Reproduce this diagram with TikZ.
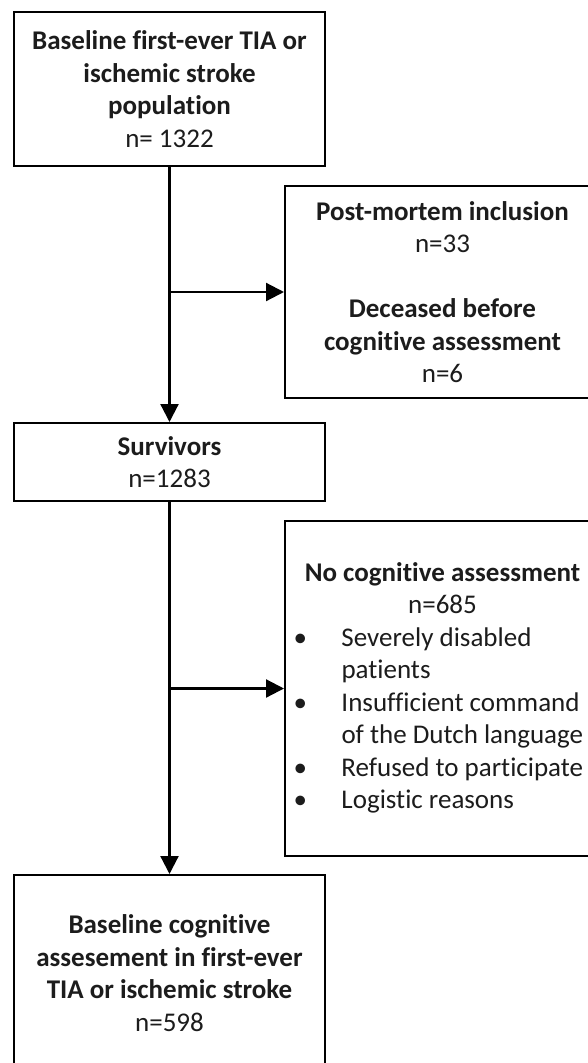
\documentclass[tikz,border=0pt]{standalone}
\usepackage{fontspec}
\setmainfont{Carlito}[Ligatures=NoCommon]
\usepackage{array}
\usetikzlibrary{arrows.meta}
\definecolor{txt}{RGB}{28,28,28}
\begin{document}
\begin{tikzpicture}[x=1pt,y=-1pt,
  box/.style={draw=black, line width=2pt, inner sep=0pt, align=center,
    text=txt, font=\fontsize{27}{32.5}\selectfont},
  arr/.style={draw=black, line width=2.2pt, -{Triangle[length=18pt,width=18pt]}}]
\useasboundingbox (0,0) rectangle (588,1063);
\clip (0,0) rectangle (588,1063);
\fill[white] (0,0) rectangle (588,1063);

\node[box, minimum width=311pt, minimum height=154pt] (base) at (169.5,89)
  {\textbf{Baseline first-ever TIA or}\\\textbf{ischemic stroke}\\\textbf{population}\\n= 1322};

\node[box, minimum width=315pt, minimum height=212pt] (excl1) at (442.5,292)
  {\textbf{Post-mortem inclusion}\\n=33\\[32.5pt]\textbf{Deceased before}\\\textbf{cognitive assessment}\\n=6};

\node[box, minimum width=311pt, minimum height=78pt] (surv) at (169.5,462)
  {\textbf{Survivors}\\n=1283};

\node[box, minimum width=315pt, minimum height=335pt] (excl2) at (442.5,688.5)
  {\begin{tabular}{@{}p{48pt}@{}p{250pt}@{}}
   \multicolumn{2}{c}{\textbf{No cognitive assessment}}\\
   \multicolumn{2}{c}{n=685}\\
   \textbullet & Severely disabled\newline patients\\
   \textbullet & Insufficient command\newline of the Dutch language\\
   \textbullet & Refused to participate\\
   \textbullet & Logistic reasons
   \end{tabular}};

\node[box, minimum width=311pt, minimum height=196pt] (final) at (169.5,973)
  {\textbf{Baseline cognitive}\\\textbf{assesement in first-ever}\\\textbf{TIA or ischemic stroke}\\n=598};

\draw[arr] (base.south) -- (surv.north);
\draw[arr] (surv.south) -- (final.north);
\coordinate (j1) at (base.south |- excl1.west);
\coordinate (j2) at (surv.south |- excl2.west);
\draw[arr] (j1) -- (excl1.west);
\draw[arr] (j2) -- (excl2.west);
\end{tikzpicture}
\end{document}
